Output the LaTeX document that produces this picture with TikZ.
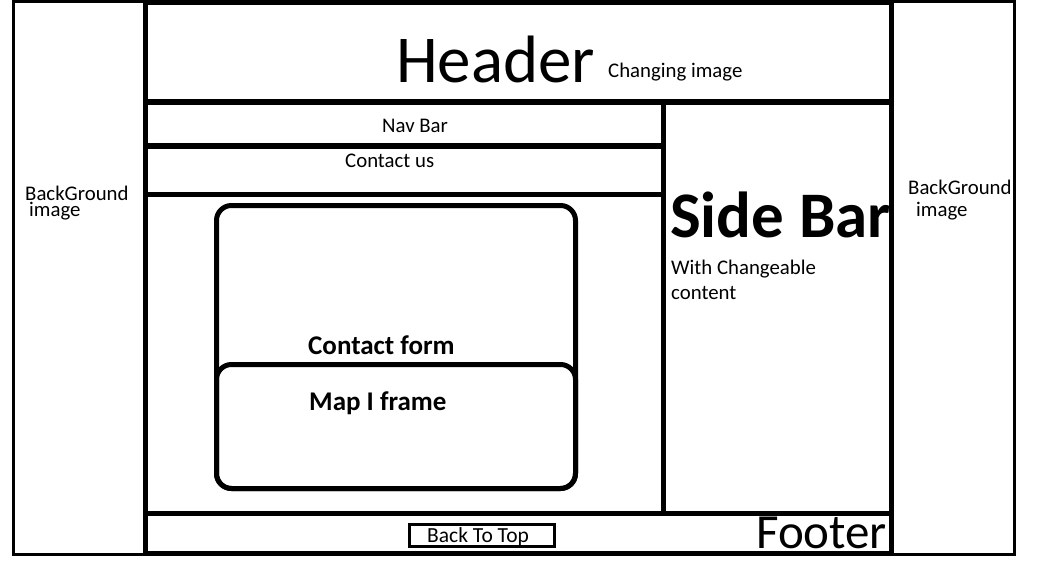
\documentclass[tikz,border=0pt]{standalone}
\usepackage{fontspec}
\setmainfont{Carlito}
\begin{document}
\begin{tikzpicture}[x=1pt,y=-1pt,
  frame/.style={draw=black,line width=5pt},
  thin frame/.style={draw=black,line width=3pt},
  panel/.style={draw=black,line width=5pt,rounded corners=15pt},
  label/.style={anchor=base west,inner sep=0pt,font=\fontsize{20.8}{24}\selectfont},
  bold label/.style={anchor=base west,inner sep=0pt,font=\fontsize{27}{31}\selectfont\bfseries}]
\useasboundingbox (0,0) rectangle (1039,563);

% texts
\node[anchor=base west,inner sep=0pt,font=\fontsize{67}{72}\selectfont] (header) at (396,82) {Header};
\node[label] (changing) at (608,77) {Changing image};
\node[label] (nav) at (382,132) {Nav Bar};
\node[label] (contact) at (345,167) {Contact us};
% two-line labels: the base anchor sits on the last line
\node[label,align=left,font=\fontsize{20.8}{16}\selectfont] (bgl) at (25,216) {BackGround\\\hspace*{4pt}image};
\node[label,align=left,font=\fontsize{20.8}{22}\selectfont] (bgr) at (908,216) {BackGround\\\hspace*{8pt}image};
\node[anchor=base west,inner sep=0pt,font=\fontsize{65}{70}\selectfont\bfseries] (side) at (670,237) {Side Bar};
\node[label] (with) at (671,274) {With Changeable};
\node[label] (content) at (671,299) {content};
\node[bold label] (form) at (308,354) {Contact form};
\node[bold label] (map) at (309,410) {Map I frame};
\node[label,font=\fontsize{21.5}{25}\selectfont] (top) at (427,542) {Back To Top};
\node[anchor=base west,inner sep=0pt,font=\fontsize{49}{54}\selectfont] (footer) at (756,548) {Footer};

% page outline with the two background strips
\draw[thin frame] (13.5,1) rectangle (1014.5,554.5);

% main column
\draw[frame] (145,2.5) rectangle (891,553);
\draw[line width=6pt] (145,102) -- (891,102);
\draw[line width=6pt] (145,145.5) -- (663.5,145.5);
\draw[frame] (145,194.5) -- (663.5,194.5);
\draw[frame] (663.5,102) -- (663.5,513.5);
\draw[frame] (145,513.5) -- (891,513.5);

% contact form and map frame
\draw[panel] (216.5,205.5) rectangle (575.5,488.5);
\draw[panel] (216.5,364.5) rectangle (575.5,488.5);

% back to top button
\draw[thin frame] (409.5,524.5) rectangle (554.5,546.5);
\end{tikzpicture}
\end{document}
